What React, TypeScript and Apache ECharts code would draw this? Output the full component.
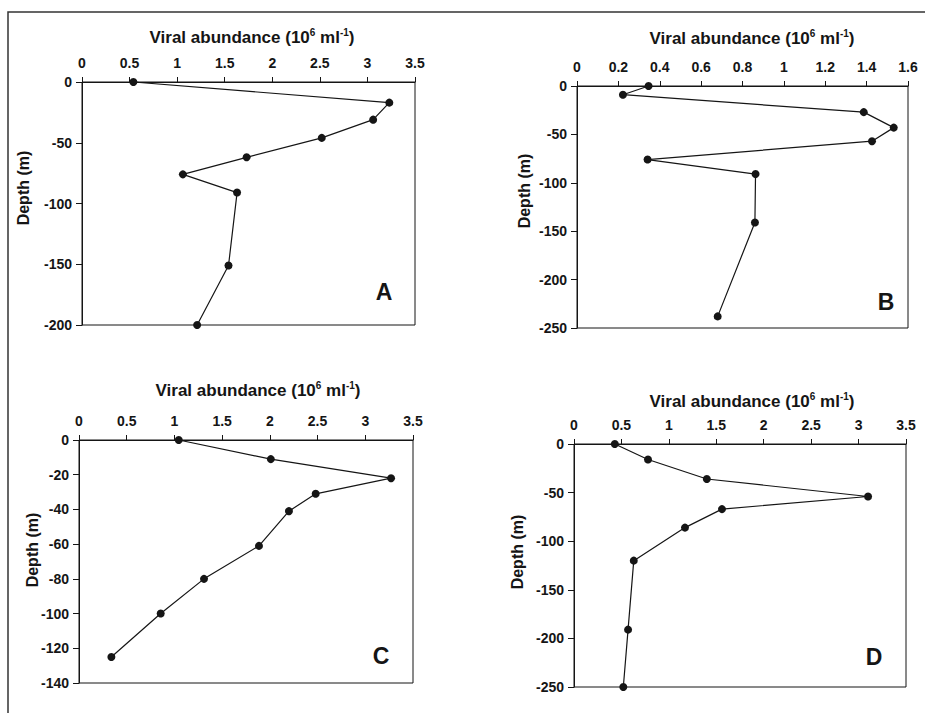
import React, { useEffect, useRef } from "react";
import * as echarts from "echarts";

// Panel A
const depthA = [0, -17, -31, -46, -62, -76, -91, -151, -200];
const virusA = [0.54, 3.23, 3.06, 2.52, 1.73, 1.06, 1.63, 1.54, 1.21];
// Panel B
const depthB = [0, -9, -27, -43, -57, -76, -91, -141, -238];
const virusB = [0.346, 0.222, 1.386, 1.531, 1.426, 0.341, 0.863, 0.86, 0.68];
// Panel C
const depthC = [0, -11, -22, -31, -41, -61, -80, -100, -125];
const virusC = [1.045, 2.01, 3.27, 2.48, 2.2, 1.886, 1.31, 0.856, 0.339];
// Panel D
const depthD = [0, -16, -36, -54, -67, -86, -120, -191, -250];
const virusD = [0.43, 0.78, 1.4, 3.1, 1.56, 1.17, 0.63, 0.57, 0.52];

const panelLetters = ["A", "B", "C", "D"];
const xMax = [3.5, 1.6, 3.5, 3.5];
const xInterval = [0.5, 0.2, 0.5, 0.5];
const yMin = [-200, -250, -140, -250];
const yInterval = [50, 50, 20, 50];
const xTitle = "Viral abundance (10{sup|6} ml{sup|-1})";
const yTitle = "Depth (m)";

const FONT = "'Liberation Sans', Arial, Helvetica, sans-serif";
const INK = "#151515";

export default function App() {
  const ref = useRef<HTMLDivElement>(null);
  useEffect(() => {
    if (!ref.current) return;
    const chart = echarts.init(ref.current, null, { renderer: "svg" });
    const grids = [
      { left: 82, top: 82, width: 333, height: 243 },
      { left: 577, top: 86, width: 331, height: 242 },
      { left: 79, top: 440, width: 334, height: 243 },
      { left: 574, top: 444, width: 332, height: 243 },
    ];
    const titlePos = [
      [252, 37],
      [752, 38],
      [258, 390],
      [752, 401],
    ];
    const depthPos = [
      [23, 188],
      [524, 191],
      [32, 550],
      [517, 552],
    ];
    const letterPos = [
      [384, 292],
      [886, 302],
      [381, 656],
      [874, 657],
    ];
    const depths = [depthA, depthB, depthC, depthD];
    const viruses = [virusA, virusB, virusC, virusD];

    const graphic: any[] = [
      {
        type: "polyline",
        shape: { points: [[8, 713], [8, 12], [925, 12]] },
        style: { stroke: "#333", lineWidth: 1.5, fill: null },
      },
    ];
    for (let i = 0; i < 4; i++) {
      graphic.push({
        type: "text",
        x: titlePos[i][0],
        y: titlePos[i][1],
        style: {
          text: xTitle,
          fontFamily: FONT,
          fontSize: 17,
          fontWeight: "bold",
          fill: INK,
          align: "center",
          verticalAlign: "middle",
          rich: {
            sup: {
              fontSize: 10,
              fontWeight: "bold",
              fontFamily: FONT,
              fill: INK,
              padding: [0, 0, 9, 0],
            },
          },
        },
      });
      graphic.push({
        type: "text",
        x: depthPos[i][0],
        y: depthPos[i][1],
        rotation: Math.PI / 2,
        style: {
          text: yTitle,
          fontFamily: FONT,
          fontSize: 16,
          fontWeight: "bold",
          fill: INK,
          align: "center",
          verticalAlign: "middle",
        },
      });
      graphic.push({
        type: "text",
        x: letterPos[i][0],
        y: letterPos[i][1],
        style: {
          text: panelLetters[i],
          fontFamily: FONT,
          fontSize: 23,
          fontWeight: "bold",
          fill: INK,
          align: "center",
          verticalAlign: "middle",
        },
      });
    }

    const option: any = {
      animation: false,
      backgroundColor: "#fff",
      grid: grids.map((g) => ({
        ...g,
        show: true,
        borderColor: INK,
        borderWidth: 1,
        backgroundColor: "transparent",
        containLabel: false,
      })),
      xAxis: grids.map((_, i) => ({
        gridIndex: i,
        type: "value",
        position: "top",
        min: 0,
        max: xMax[i],
        interval: xInterval[i],
        axisLine: { show: true, onZero: false, lineStyle: { color: INK, width: 1 } },
        axisTick: { show: true, inside: false, length: 5, lineStyle: { color: INK } },
        axisLabel: { margin: 12, fontSize: 14, fontWeight: "bold", color: INK, fontFamily: FONT },
        splitLine: { show: false },
      })),
      yAxis: grids.map((_, i) => ({
        gridIndex: i,
        type: "value",
        min: yMin[i],
        max: 0,
        interval: yInterval[i],
        axisLine: { show: true, onZero: false, lineStyle: { color: INK, width: 1 } },
        axisTick: { show: true, inside: false, length: 6, lineStyle: { color: INK } },
        axisLabel: { margin: 10, fontSize: 14, fontWeight: "bold", color: INK, fontFamily: FONT },
        splitLine: { show: false },
      })),
      series: grids.map((_, i) => ({
        type: "line",
        xAxisIndex: i,
        yAxisIndex: i,
        data: viruses[i].map((v, k) => [v, depths[i][k]]),
        symbol: "circle",
        symbolSize: 8,
        showSymbol: true,
        clip: false,
        itemStyle: { color: "#151515" },
        lineStyle: { color: "#151515", width: 1.2 },
      })),
      graphic,
    };
    chart.setOption(option);
    return () => chart.dispose();
  }, []);
  return (
    <div
      ref={ref}
      style={{ position: "fixed", left: 0, top: 0, width: 925, height: 713, background: "#fff" }}
    />
  );
}
